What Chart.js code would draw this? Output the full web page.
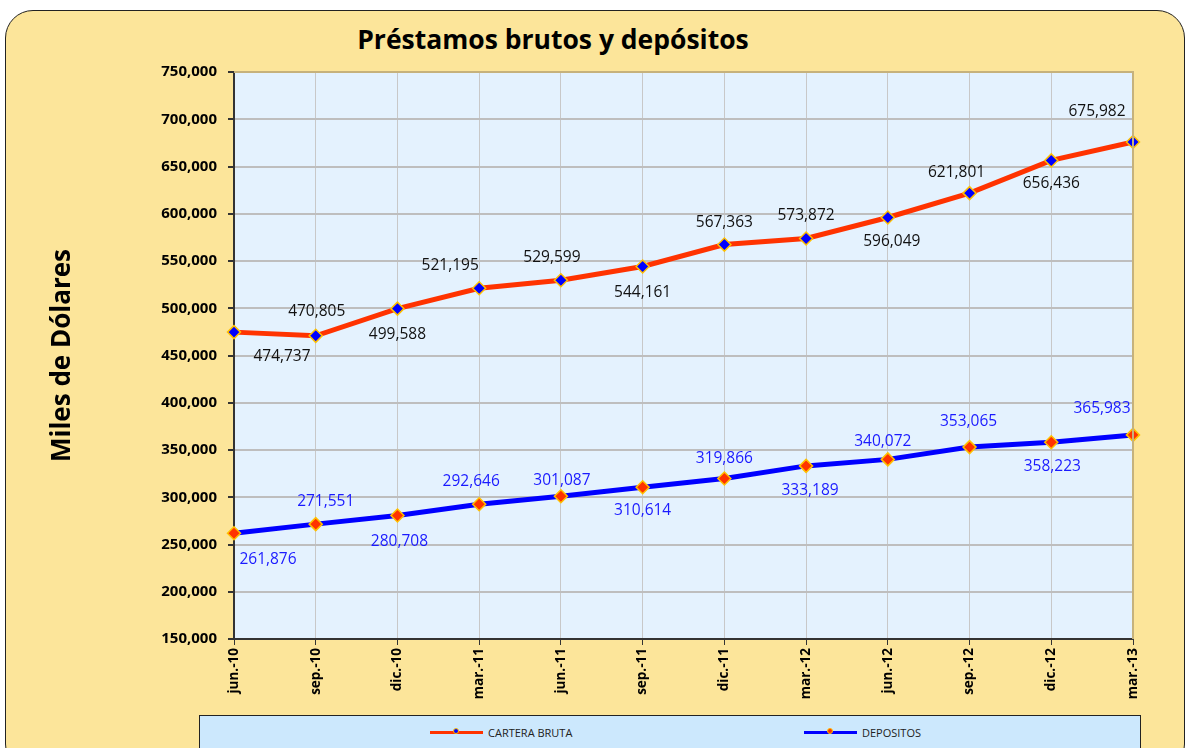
<!DOCTYPE html>
<html>
<head>
<meta charset="utf-8">
<script src="https://cdn.jsdelivr.net/npm/chart.js@4.4.1/dist/chart.umd.min.js"></script>
<style>
  html, body { margin: 0; padding: 0; background: #fff; }
  #wrap { position: relative; width: 1185px; height: 748px; overflow: hidden; font-family: "Open Sans", sans-serif; }
  #frame { position: absolute; left: 5px; top: 10px; width: 1178px; height: 760px; background: #FCE59A; border: 1px solid #222; border-radius: 28px; }
  #title { position: absolute; left: 0; width: 1106px; top: 21px; text-align: center; font-size: 26.5px; font-weight: bold; color: #000; }
  canvas { position: absolute; left: 0; top: 0; }
  #legend { position: absolute; left: 199px; top: 715px; width: 942px; height: 34px; background: #CCE8FD; border: 1px solid #222; box-sizing: border-box; font-size: 11px; color: #222; }
  .item { position: absolute; top: 8px; display: flex; align-items: center; height: 16px; }
  .line { position: relative; width: 53px; height: 3px; margin-right: 5px; }
  .dot { position: absolute; left: 23px; top: -3px; width: 6px; height: 6px; border-radius: 50%; border: 1px solid #FFC000; box-sizing: border-box; }
</style>
</head>
<body>
<div id="wrap">
  <div id="frame"></div>
  <div id="title">Préstamos brutos y depósitos</div>
  <canvas id="chart" width="1185" height="748"></canvas>
  <div id="legend">
    <div class="item" style="left:230px"><span class="line" style="background:#FF3300"><span class="dot" style="background:#0000FF"></span></span>CARTERA BRUTA</div>
    <div class="item" style="left:604px"><span class="line" style="background:#0000FF"><span class="dot" style="background:#FF3300"></span></span>DEPOSITOS</div>
  </div>
</div>
<script>
/* Data */
const labels = ['jun.-10','sep.-10','dic.-10','mar.-11','jun.-11','sep.-11','dic.-11','mar.-12','jun.-12','sep.-12','dic.-12','mar.-13'];
const carteraBruta = [474737,470805,499588,521195,529599,544161,567363,573872,596049,621801,656436,675982];
const depositos    = [261876,271551,280708,292646,301087,310614,319866,333189,340072,353065,358223,365983];

/* label offsets (dx, dy) from each point */
const carteraOffsets = [[48,24],[1,-24],[0,26],[-29,-23],[-9,-23],[0,26],[0,-22],[0,-23],[4,24],[-13,-21],[0,23],[-36,-30]];
const depositosOffsets = [[34,26],[10,-23],[2,26],[-8,-23],[1,-16],[0,23],[0,-20],[4,25],[-5,-18],[-1,-26],[1,24],[-31,-26]];

const FONT = '"Open Sans", sans-serif';

/* plot background and tan frame */
const plotBg = {
  id: 'plotBg',
  beforeDraw(chart) {
    const { ctx, chartArea: a } = chart;
    ctx.save();
    ctx.fillStyle = '#E4F2FE';
    ctx.fillRect(a.left, a.top, a.right - a.left, a.bottom - a.top);
    ctx.restore();
  },
  afterDraw(chart) {
    const { ctx, chartArea: a } = chart;
    ctx.save();
    ctx.strokeStyle = '#C6B27C';
    ctx.lineWidth = 2;
    ctx.beginPath();
    ctx.moveTo(a.left, a.top);
    ctx.lineTo(a.right, a.top);
    ctx.lineTo(a.right, a.bottom);
    ctx.stroke();
    ctx.restore();
  }
};

/* value labels */
const valueLabels = {
  id: 'valueLabels',
  afterDatasetsDraw(chart) {
    const ctx = chart.ctx;
    ctx.save();
    ctx.font = '15.5px ' + FONT;
    ctx.textAlign = 'center';
    ctx.textBaseline = 'middle';
    chart.data.datasets.forEach((ds, di) => {
      const meta = chart.getDatasetMeta(di);
      const offs = di === 0 ? carteraOffsets : depositosOffsets;
      ctx.fillStyle = di === 0 ? '#111' : '#1A1AFF';
      meta.data.forEach((pt, i) => {
        ctx.fillText(ds.data[i].toLocaleString('en-US'), pt.x + offs[i][0], pt.y + offs[i][1]);
      });
    });
    ctx.restore();
  }
};

new Chart(document.getElementById('chart'), {
  type: 'line',
  data: {
    labels: labels,
    datasets: [
      {
        label: 'CARTERA BRUTA',
        data: carteraBruta,
        borderColor: '#FF3300',
        borderWidth: 5,
        pointStyle: 'rectRot',
        pointRadius: 6.5,
        pointBorderWidth: 1.5,
        pointBackgroundColor: '#0000FF',
        pointBorderColor: '#FFC000',
        tension: 0
      },
      {
        label: 'DEPOSITOS',
        data: depositos,
        borderColor: '#0000FF',
        borderWidth: 5,
        pointStyle: 'rectRot',
        pointRadius: 6.5,
        pointBorderWidth: 1.5,
        pointBackgroundColor: '#FF3300',
        pointBorderColor: '#FFC000',
        tension: 0
      }
    ]
  },
  options: {
    responsive: false,
    animation: false,
    layout: { padding: { top: 72, right: 52, left: 47, bottom: 40 } },
    plugins: { legend: { display: false }, title: { display: false }, tooltip: { enabled: false } },
    scales: {
      x: {
        offset: false,
        grid: { color: '#C8C8C8', lineWidth: 1, tickLength: 6, tickColor: '#333' },
        border: { color: '#333', width: 2 },
        ticks: { color: '#000', minRotation: 90, maxRotation: 90, padding: 3, font: { family: FONT, size: 13.5, weight: 'bold' } },
        afterFit(s) { s.height = 69; }
      },
      y: {
        min: 150000,
        max: 750000,
        grid: { color: '#BEBEBE', lineWidth: 2, tickLength: 6, tickColor: '#333' },
        border: { color: '#333', width: 2 },
        ticks: {
          stepSize: 50000,
          color: '#000',
          padding: 11,
          font: { family: FONT, size: 15, weight: 'bold' },
          callback: v => v.toLocaleString('en-US')
        },
        title: { display: true, text: 'Miles de Dólares', color: '#000', padding: 0, font: { family: FONT, size: 26, weight: 'bold' } },
        afterFit(s) { s.width = 187; }
      }
    }
  },
  plugins: [plotBg, valueLabels]
});
</script>
</body>
</html>
